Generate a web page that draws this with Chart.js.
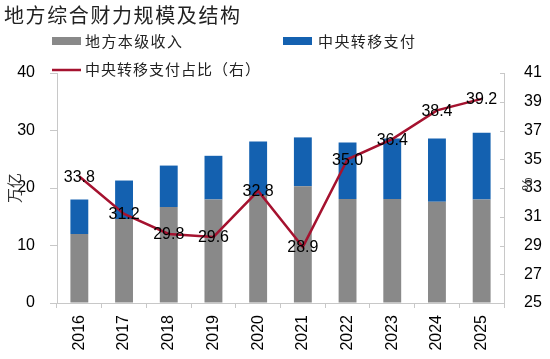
<!DOCTYPE html>
<html>
<head>
<meta charset="utf-8">
<script src="https://cdn.jsdelivr.net/npm/chart.js@4/dist/chart.umd.min.js"></script>
<style>
html,body{margin:0;padding:0;background:#fff;}
#wrap{position:relative;width:550px;height:359px;}
</style>
</head>
<body>
<div id="wrap"><canvas id="c" width="550" height="359"></canvas></div>
<script>
const categories = ['2016','2017','2018','2019','2020','2021','2022','2023','2024','2025'];
const localRevenue = [12.0, 14.6, 16.7, 18.0, 18.8, 20.3, 18.1, 18.1, 17.6, 18.0];
const centralTransfer = [6.0, 6.7, 7.2, 7.6, 9.3, 8.5, 9.8, 10.5, 11.0, 11.6];
const transferShare = [33.8, 31.2, 29.8, 29.6, 32.8, 28.9, 35.0, 36.4, 38.4, 39.2];
const leftTicks = [0, 10, 20, 30, 40];
const rightTicks = [25, 27, 29, 31, 33, 35, 37, 39, 41];

const titleText = '地方综合财力规模及结构';
const seriesNames = ['地方本级收入', '中央转移支付', '中央转移支付占比（右）'];
const leftTitle = '万亿';
const rightTitle = '%';

const GRAY = '#898989', BLUE = '#1461B0', RED = '#A5122F', AXIS = '#c8c8c8';
const NUMFONT = '"Liberation Sans", Arial, sans-serif';
const CJKFONT = '"Noto Sans CJK SC", sans-serif';

const decor = {
  id: 'decor',
  afterDraw(chart) {
    const ctx = chart.ctx;
    ctx.save();
    // title
    ctx.fillStyle = '#222';
    ctx.font = '20px ' + CJKFONT;
    ctx.letterSpacing = '1.6px';
    ctx.textBaseline = 'middle';
    ctx.textAlign = 'left';
    ctx.fillText(titleText, 4, 15);
    // legend
    ctx.font = '15px ' + CJKFONT;
    ctx.letterSpacing = '1.4px';
    ctx.fillStyle = GRAY; ctx.fillRect(52, 37, 29, 8);
    ctx.fillStyle = BLUE; ctx.fillRect(283, 37, 29, 8);
    ctx.strokeStyle = RED; ctx.lineWidth = 2.5;
    ctx.beginPath(); ctx.moveTo(52, 70); ctx.lineTo(81, 70); ctx.stroke();
    ctx.fillStyle = '#222';
    ctx.fillText(seriesNames[0], 85, 41);
    ctx.fillText(seriesNames[1], 318, 41);
    ctx.letterSpacing = '1px';
    ctx.fillText(seriesNames[2], 85, 69);
    ctx.letterSpacing = '0px';
    // right axis inward tick marks
    const y1 = chart.scales.y1;
    ctx.strokeStyle = AXIS; ctx.lineWidth = 1;
    rightTicks.forEach(v => {
      const py = Math.round(y1.getPixelForValue(v)) + 0.5;
      ctx.beginPath(); ctx.moveTo(y1.left - 4, py); ctx.lineTo(y1.left, py); ctx.stroke();
    });
    // axis titles
    const midY = (chart.chartArea.top + chart.chartArea.bottom) / 2;
    ctx.fillStyle = '#333';
    ctx.font = '15px ' + CJKFONT;
    ctx.textAlign = 'center';
    ctx.save(); ctx.translate(14, midY); ctx.rotate(-Math.PI / 2); ctx.fillText(leftTitle, 0, 0); ctx.restore();
    ctx.font = '15px ' + NUMFONT;
    ctx.save(); ctx.translate(528, midY - 4); ctx.rotate(-Math.PI / 2); ctx.fillText(rightTitle, 0, 0); ctx.restore();
    // data labels for line
    const meta = chart.getDatasetMeta(2);
    ctx.font = '16px ' + NUMFONT;
    ctx.fillStyle = '#000';
    ctx.textAlign = 'center';
    ctx.textBaseline = 'middle';
    meta.data.forEach((pt, i) => {
      ctx.fillText(transferShare[i].toFixed(1), pt.x, pt.y + 1);
    });
    ctx.restore();
  }
};

new Chart(document.getElementById('c'), {
  data: {
    labels: categories,
    datasets: [
      { type: 'bar', label: seriesNames[0], data: localRevenue, backgroundColor: GRAY, yAxisID: 'y', stack: 's', barPercentage: 0.4, categoryPercentage: 1.0, order: 2 },
      { type: 'bar', label: seriesNames[1], data: centralTransfer, backgroundColor: BLUE, yAxisID: 'y', stack: 's', barPercentage: 0.4, categoryPercentage: 1.0, order: 2 },
      { type: 'line', label: seriesNames[2], data: transferShare, borderColor: RED, borderWidth: 2.5, pointRadius: 0, tension: 0, yAxisID: 'y1', order: 1 }
    ]
  },
  options: {
    responsive: false,
    animation: false,
    devicePixelRatio: 1,
    layout: { padding: { top: 73, left: 0, right: 0, bottom: 0 } },
    plugins: { legend: { display: false }, tooltip: { enabled: false }, title: { display: false } },
    scales: {
      x: {
        stacked: true,
        grid: { display: true, drawOnChartArea: false, drawTicks: true, tickLength: 5, color: AXIS, offset: true },
        border: { display: true, color: AXIS },
        ticks: { color: '#000', font: { family: NUMFONT, size: 16 }, minRotation: 90, maxRotation: 90, padding: 7 },
        afterFit(s) { s.height = 56; }
      },
      y: {
        position: 'left', stacked: true, min: 0, max: 40,
        afterBuildTicks(s) { s.ticks = leftTicks.map(v => ({ value: v })); },
        grid: { display: true, drawOnChartArea: false, drawTicks: true, tickLength: 7, color: AXIS },
        border: { display: true, color: AXIS },
        ticks: { color: '#000', font: { family: NUMFONT, size: 16 }, padding: 15 },
        afterFit(s) { s.width = 57; }
      },
      y1: {
        position: 'right', min: 25, max: 41,
        afterBuildTicks(s) { s.ticks = rightTicks.map(v => ({ value: v })); },
        grid: { display: false },
        border: { display: true, color: AXIS },
        ticks: { color: '#000', font: { family: NUMFONT, size: 16 }, padding: 12 },
        afterFit(s) { s.width = 46; }
      }
    }
  },
  plugins: [decor]
});
</script>
</body>
</html>
